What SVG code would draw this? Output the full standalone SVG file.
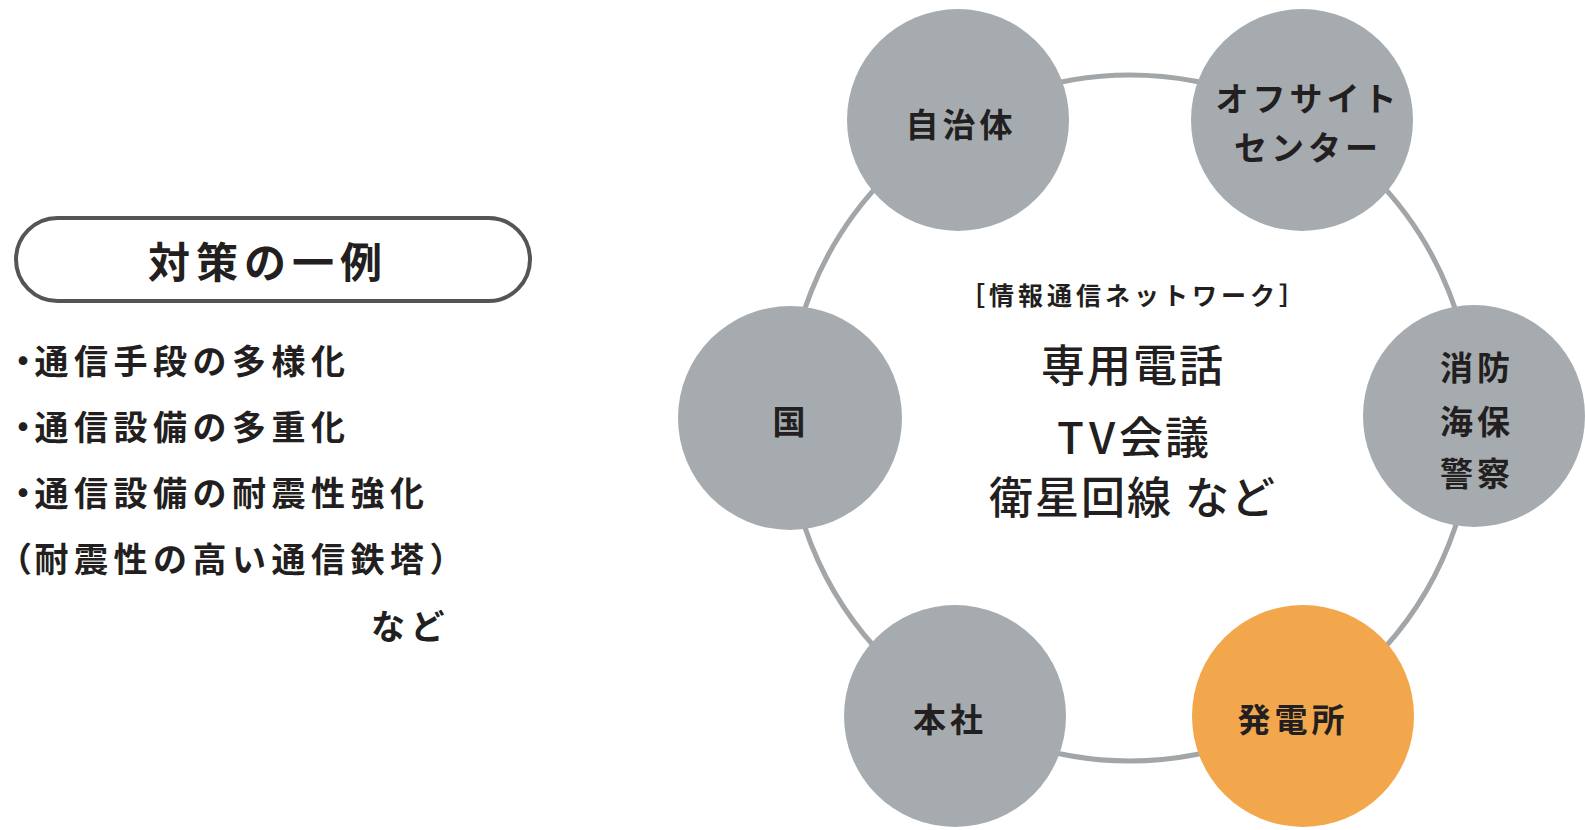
<svg xmlns="http://www.w3.org/2000/svg" width="1585" height="830" viewBox="0 0 1585 830">
  <style>
    text { font-family: "Noto Sans CJK JP", "Noto Sans CJK SC", sans-serif; fill: #231f20; }
    .left { font-size: 34px; font-weight: 700; letter-spacing: 5.5px; }
    .title { font-size: 42px; font-weight: 700; letter-spacing: 6px; text-anchor: middle; }
    .node { fill: #a5abaf; }
    .node.orange { fill: #f3a74c; }
    .lbl { font-size: 33px; font-weight: 700; letter-spacing: 4px; text-anchor: middle; }
    .ctr { font-size: 44px; font-weight: 500; letter-spacing: 2px; text-anchor: middle; }
    .sub { font-size: 25px; font-weight: 700; letter-spacing: 4px; text-anchor: middle; }
    .ring { fill: none; stroke: #a2a6a8; stroke-width: 5; }
  </style>
  <rect width="1585" height="830" fill="#ffffff"/>

  <g id="measures">
    <rect x="16" y="218" width="514" height="83" rx="41.5" ry="41.5" fill="none" stroke="#555555" stroke-width="4"/>
    <text class="title" x="268" y="278">対策の一例</text>
    <text class="left" x="6" y="374" dx="0 -11">・通信手段の多様化</text>
    <text class="left" x="6" y="440" dx="0 -11">・通信設備の多重化</text>
    <text class="left" x="6" y="506" dx="0 -11">・通信設備の耐震性強化</text>
    <text class="left" x="-2" y="572" dx="0 -3">（耐震性の高い通信鉄塔）</text>
    <text class="left" x="371" y="639">など</text>
  </g>

  <g id="connectors">
    <circle class="ring" cx="1130" cy="418" r="343"/>
  </g>

  <g id="center-text">
    <text class="sub" x="1134" y="305">［情報通信ネットワーク］</text>
    <text class="ctr" x="1133" y="382">専用電話</text>
    <text class="ctr" x="1134" y="454">T<tspan dx="3">V</tspan><tspan dx="2">会議</tspan></text>
    <text class="ctr" x="1133" y="514">衛星回線 など</text>
  </g>

  <g id="node-jichitai">
    <circle class="node" cx="958" cy="120" r="111"/>
    <text class="lbl" x="961" y="137">自治体</text>
  </g>
  <g id="node-offsite">
    <circle class="node" cx="1302" cy="120" r="111"/>
    <text class="lbl" x="1308" y="111">オフサイト</text>
    <text class="lbl" x="1308" y="160">センター</text>
  </g>
  <g id="node-kuni">
    <circle class="node" cx="790" cy="418" r="112"/>
    <text class="lbl" x="791" y="434">国</text>
  </g>
  <g id="node-shobo">
    <circle class="node" cx="1474" cy="416" r="111"/>
    <text class="lbl" x="1477" y="380">消防</text>
    <text class="lbl" x="1477" y="434">海保</text>
    <text class="lbl" x="1477" y="486">警察</text>
  </g>
  <g id="node-honsha">
    <circle class="node" cx="955" cy="716" r="111"/>
    <text class="lbl" x="950" y="732">本社</text>
  </g>
  <g id="node-hatsudensho">
    <circle class="node orange" cx="1303" cy="716" r="111"/>
    <text class="lbl" x="1293" y="732">発電所</text>
  </g>
</svg>
